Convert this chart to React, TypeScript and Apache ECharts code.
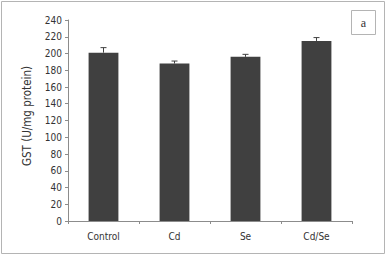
import React, { useEffect, useRef } from "react";
import * as echarts from "echarts";

const categories = ["Control", "Cd", "Se", "Cd/Se"];
const values = [201, 188, 196, 215];
const errors = [6, 3, 3, 4];
const yTicks = { min: 0, max: 240, interval: 20 };
const yName = "GST (U/mg protein)";
const panelLabel = "a";

const FONT = "'DejaVu Sans Condensed', 'Liberation Sans', sans-serif";
const TEXT = "#333333";
const AXIS = "#8c8c8c";
const BAR = "#404040";

export default function App() {
  const ref = useRef<HTMLDivElement>(null);
  useEffect(() => {
    if (!ref.current) return;
    const chart = echarts.init(ref.current, undefined, { renderer: "svg" });
    chart.setOption({
      animation: false,
      backgroundColor: "#ffffff",
      grid: { left: 68, right: 34, top: 20, bottom: 34 },
      xAxis: {
        type: "category",
        data: categories,
        axisLine: { lineStyle: { color: AXIS, width: 1 } },
        axisTick: { show: true, length: 3, lineStyle: { color: AXIS } },
        axisLabel: { color: TEXT, fontFamily: FONT, fontSize: 10, margin: 10 },
      },
      yAxis: {
        type: "value",
        min: yTicks.min,
        max: yTicks.max,
        interval: yTicks.interval,
        name: yName,
        nameLocation: "middle",
        nameGap: 35,
        nameTextStyle: { color: TEXT, fontFamily: FONT, fontSize: 11.5, padding: [0, 0, 0, 9] },
        axisLine: { show: true, lineStyle: { color: AXIS, width: 1 } },
        axisTick: { show: true, length: 3, lineStyle: { color: AXIS } },
        axisLabel: { color: TEXT, fontFamily: FONT, fontSize: 10, margin: 6 },
        splitLine: { show: false },
      },
      series: [
        {
          type: "bar",
          data: values,
          barWidth: "42%",
          itemStyle: { color: BAR },
        },
        {
          type: "custom",
          data: values.map((v, i) => [i, v, errors[i]]),
          renderItem: (params: any, api: any) => {
            const x = api.value(0);
            const v = api.value(1);
            const e = api.value(2);
            const p0 = api.coord([x, v]);
            const p1 = api.coord([x, v + e]);
            const style = { stroke: BAR, lineWidth: 1 };
            return {
              type: "group",
              children: [
                { type: "line", shape: { x1: p0[0], y1: p0[1], x2: p1[0], y2: p1[1] }, style },
                { type: "line", shape: { x1: p1[0] - 3, y1: p1[1], x2: p1[0] + 3, y2: p1[1] }, style },
              ],
            };
          },
          z: 3,
        },
      ],
      graphic: [
        {
          type: "rect",
          shape: { x: 1.5, y: 1.5, width: 383, height: 252 },
          style: { fill: "none", stroke: "#b4b4b4", lineWidth: 1 },
          silent: true,
        },
        {
          type: "rect",
          shape: { x: 351.5, y: 10.5, width: 24, height: 24 },
          style: { fill: "#ffffff", stroke: "#b4b4b4", lineWidth: 1 },
        },
        {
          type: "text",
          x: 363.5,
          y: 22.5,
          style: {
            text: panelLabel,
            fill: TEXT,
            font: "12px 'Liberation Serif', 'DejaVu Serif', serif",
            align: "center",
            verticalAlign: "middle",
          },
        },
      ],
    });
    return () => chart.dispose();
  }, []);
  return (
    <div
      ref={ref}
      style={{ position: "fixed", left: 0, top: 0, width: 386, height: 255 }}
    />
  );
}
